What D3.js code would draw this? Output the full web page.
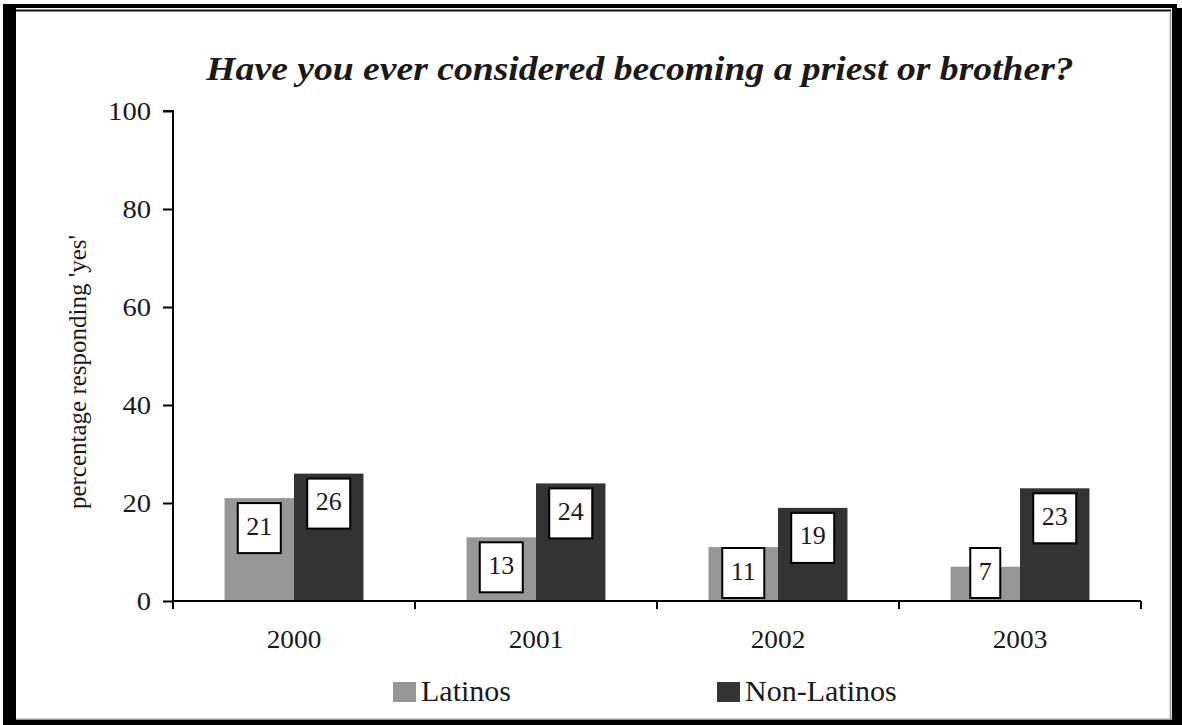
<!DOCTYPE html>
<html>
<head>
<meta charset="utf-8">
<script src="https://cdn.jsdelivr.net/npm/d3@7"></script>
<style>
  html, body { margin: 0; padding: 0; background: #fff; }
  svg { display: block; }
  text { font-family: "Liberation Serif", "Times New Roman", serif; fill: #1a1a1a; }
</style>
</head>
<body>
<svg id="chart" width="1182" height="725"></svg>
<script>
// Survey results by year
const years = ["2000", "2001", "2002", "2003"];
const seriesNames = ["Latinos", "Non-Latinos"];
const latinos = [21, 13, 11, 7];
const nonLatinos = [26, 24, 19, 23];
const yTicks = [0, 20, 40, 60, 80, 100];
const titleText = "Have you ever considered becoming a priest or brother?";
const yLabelText = "percentage responding 'yes'";

const seriesColor = { "Latinos": "#979797", "Non-Latinos": "#333333" };

const svg = d3.select("#chart");

// Widen a text element's glyphs horizontally, keeping its anchor
function stretch(sel, factor) {
  sel.each(function () {
    const len = this.getComputedTextLength();
    d3.select(this).attr("textLength", len * factor).attr("lengthAdjust", "spacingAndGlyphs");
  });
}

// Frame: heavy black border with a thin inner rule
const frame = svg.append("g");
frame.append("rect").attr("x", 3).attr("y", 4).attr("width", 1174).attr("height", 4).attr("fill", "#000");
frame.append("rect").attr("x", 3).attr("y", 4).attr("width", 13).attr("height", 721).attr("fill", "#000");
frame.append("rect").attr("x", 1172).attr("y", 8).attr("width", 10).attr("height", 717).attr("fill", "#000");
frame.append("rect").attr("x", 3).attr("y", 720).attr("width", 1179).attr("height", 5).attr("fill", "#000");
frame.append("line").attr("x1", 16).attr("x2", 1171).attr("y1", 10.5).attr("y2", 10.5).attr("stroke", "#111").attr("stroke-width", 2);
frame.append("line").attr("x1", 1170.5).attr("x2", 1170.5).attr("y1", 11).attr("y2", 720).attr("stroke", "#999").attr("stroke-width", 1.5);
frame.append("line").attr("x1", 16).attr("x2", 1172).attr("y1", 719.3).attr("y2", 719.3).attr("stroke", "#999").attr("stroke-width", 1.5);

// Plot area
const plot = { left: 173, right: 1141, top: 111, bottom: 601 };

const x = d3.scaleBand().domain(years).range([plot.left, plot.right]).padding(0);
const y = d3.scaleLinear().domain([0, 100]).range([plot.bottom, plot.top]);
const groupFrac = 0.574;
const xs = d3.scaleBand().domain(seriesNames)
  .range([0, x.bandwidth() * groupFrac]).padding(0);
const groupOffset = x.bandwidth() * (1 - groupFrac) / 2;

const rows = years.map((yr, i) => ({
  year: yr,
  values: [
    { name: "Latinos", value: latinos[i] },
    { name: "Non-Latinos", value: nonLatinos[i] }
  ]
}));

// Bars
const groups = svg.append("g").selectAll("g").data(rows).join("g")
  .attr("transform", d => `translate(${x(d.year) + groupOffset},0)`);

groups.selectAll("rect.bar").data(d => d.values).join("rect")
  .attr("class", "bar")
  .attr("x", d => xs(d.name))
  .attr("width", xs.bandwidth())
  .attr("y", d => y(d.value))
  .attr("height", d => y(0) - y(d.value))
  .attr("fill", d => seriesColor[d.name]);

// Value labels in white boxes
const labelFont = 26, boxH = 50, padX = 8.5;
groups.selectAll("g.lbl").data(d => d.values).join("g")
  .attr("class", "lbl")
  .each(function (d) {
    const g = d3.select(this);
    const t = g.append("text")
      .attr("text-anchor", "middle")
      .attr("font-size", labelFont)
      .text(d.value);
    const tw = t.node().getComputedTextLength();
    const bw = tw + padX * 2;
    const cx = xs(d.name) + xs.bandwidth() / 2;
    const top = Math.min(y(d.value) + 5, y(0) - 3 - boxH);
    g.insert("rect", "text")
      .attr("x", cx - bw / 2)
      .attr("y", top)
      .attr("width", bw)
      .attr("height", boxH)
      .attr("fill", "#fff")
      .attr("stroke", "#000")
      .attr("stroke-width", 2);
    t.attr("x", cx).attr("y", top + 31.5);
  });

// Y axis
const yAxis = svg.append("g")
  .attr("transform", `translate(${plot.left},0)`)
  .call(d3.axisLeft(y).tickValues(yTicks).tickSize(10).tickPadding(12).tickFormat(d3.format("d")));
yAxis.select(".domain").attr("stroke", "#000").attr("stroke-width", 2)
  .attr("d", `M-10,${plot.top}H0V${plot.bottom + 8}`);
yAxis.selectAll(".tick line").attr("stroke", "#000").attr("stroke-width", 2);
yAxis.selectAll(".tick text").attr("font-size", 26).attr("font-family", "Liberation Serif, serif").attr("fill", "#1a1a1a")
  .call(stretch, 1.1);

// X axis: labels at band centers, ticks at band boundaries
const xAxis = svg.append("g")
  .attr("transform", `translate(0,${plot.bottom})`)
  .call(d3.axisBottom(x).tickSize(0).tickPadding(29));
xAxis.select(".domain").attr("stroke", "#000").attr("stroke-width", 2)
  .attr("d", `M${plot.left},0H${plot.right}`);
xAxis.selectAll(".tick text").attr("font-size", 26).attr("font-family", "Liberation Serif, serif").attr("fill", "#1a1a1a")
  .call(stretch, 1.05);
const bounds = years.map(yr => x(yr)).concat([x(years[years.length - 1]) + x.bandwidth()]);
xAxis.selectAll("line.bound").data(bounds).join("line")
  .attr("class", "bound")
  .attr("x1", d => d).attr("x2", d => d)
  .attr("y1", 0).attr("y2", 8)
  .attr("stroke", "#000").attr("stroke-width", 2);

// Axis title
svg.append("text")
  .attr("transform", `translate(86,372) rotate(-90)`)
  .attr("text-anchor", "middle")
  .attr("font-size", 25)
  .text(yLabelText);

// Chart title
svg.append("text")
  .attr("x", 640).attr("y", 80)
  .attr("text-anchor", "middle")
  .attr("font-size", 33)
  .attr("font-weight", "bold")
  .attr("font-style", "italic")
  .text(titleText)
  .call(stretch, 1.14);

// Legend
const legendX = { "Latinos": 393, "Non-Latinos": 717 };
const leg = svg.append("g").selectAll("g").data(seriesNames).join("g")
  .attr("transform", d => `translate(${legendX[d]},682)`);
leg.append("rect").attr("width", 23).attr("height", 20).attr("fill", d => seriesColor[d]);
leg.append("text").attr("x", 28).attr("y", 18.5).attr("font-size", 30).text(d => d);
</script>
</body>
</html>
